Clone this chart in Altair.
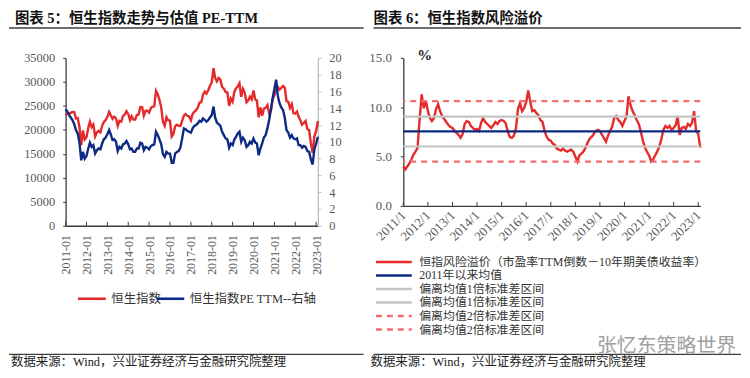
import altair as alt
import pandas as pd

# ---------------- data (monthly) ----------------
START = "2011-01-01"

hsi_close = [
    23035, 23447, 23338, 23528, 23720, 23684, 22398, 22440, 20535, 16800, 19865, 17989,
    18434, 20390, 21680, 20556, 21094, 18630, 19441, 19796, 19483, 20840, 21642, 22030,
    22657, 23730, 23020, 22300, 22737, 22392, 20803, 21884, 21731, 22860, 23206, 23881,
    23306, 22035, 22837, 22151, 22134, 23082, 23191, 24757, 24742, 22933, 23998, 23987,
    23605, 24507, 24823, 24901, 28133, 27424, 26250, 24636, 21671, 20846, 22640, 21996,
    21914, 18600, 19112, 20777, 21067, 20815, 20794, 21891, 22977, 23297, 22935, 22790,
    22001, 23361, 23741, 24112, 24615, 25661, 25765, 27324, 27970, 27554, 28246, 29177,
    29919, 32887, 30845, 30093, 30808, 30469, 28955, 28583, 27889, 27789, 24980, 26507,
    25846, 27942, 28633, 29051, 29699, 26901, 28543, 27778, 25725, 26092, 26907, 26346,
    28190, 26313, 26130, 22600, 24644, 22961, 24427, 24595, 25177, 23459, 24107, 26341,
    27231, 28284, 28980, 28378, 28725, 29152, 28828, 25961, 25879, 24576, 25377, 23475,
    23398, 23802, 22713, 21997, 21089, 21415, 21860, 20157, 19954, 17223, 15200, 18597,
    19781, 21842,
]

pe_ttm = [
    13.9, 13.6, 13.2, 12.9, 12.6, 12.1, 11.4, 11.0, 9.9, 7.8, 8.8, 8.0,
    8.3, 9.2, 9.9, 9.4, 9.6, 8.6, 9.0, 9.2, 9.1, 9.8, 10.3, 10.5,
    10.9, 11.4, 10.9, 10.2, 10.3, 10.0, 8.9, 9.4, 9.2, 9.7, 9.8, 10.1,
    9.7, 9.1, 9.2, 8.8, 8.8, 9.2, 9.2, 9.9, 9.8, 9.0, 9.4, 9.3,
    9.1, 9.5, 9.6, 9.7, 11.2, 10.8, 10.3, 9.7, 8.5, 8.2, 8.8, 8.6,
    8.6, 7.5, 7.5, 8.6, 8.8, 8.9, 9.3, 10.4, 11.6, 11.5, 11.3, 11.2,
    11.1, 11.6, 11.9, 12.0, 12.2, 12.5, 12.4, 12.8, 12.6, 12.4, 12.6, 12.9,
    13.2, 14.2, 12.9, 12.3, 12.1, 11.9, 11.2, 10.8, 10.4, 10.3, 9.3, 9.8,
    9.6, 10.3, 10.6, 11.0, 11.2, 10.0, 10.5, 10.2, 9.4, 9.6, 10.0, 9.8,
    10.4, 9.9, 9.8, 8.4, 9.2, 9.8, 10.5, 10.8, 11.6, 12.6, 13.8, 15.2,
    16.3, 17.4, 15.5, 14.6, 14.1, 13.8, 12.9, 11.4, 11.1, 10.5, 10.8, 10.4,
    10.3, 10.4, 9.6, 9.6, 9.3, 9.5, 9.4, 8.9, 8.8, 7.9, 7.3, 9.1,
    9.8, 10.6,
]

risk_premium = [
    4.0, 3.7, 4.0, 4.3, 4.7, 5.2, 5.5, 5.9, 8.8, 11.3, 9.9, 10.7,
    9.6, 8.9, 8.6, 8.9, 9.8, 10.3, 9.6, 9.1, 8.8, 8.5, 8.2, 8.0,
    7.9, 7.6, 7.4, 7.2, 6.9, 7.3, 8.3, 8.6, 8.5, 8.1, 7.9, 7.7,
    7.8, 7.6, 8.4, 8.9, 8.5, 8.3, 8.1, 7.9, 8.2, 8.5, 8.3, 8.6,
    8.7, 8.6, 8.4, 7.6, 7.0, 6.9, 7.1, 7.8, 9.8, 10.4, 9.6, 9.9,
    10.5, 11.7, 10.6, 9.6, 9.7, 9.4, 9.2, 8.7, 8.5, 7.6, 7.0, 6.7,
    6.6, 6.3, 6.2, 5.8, 5.7, 5.6, 5.8, 5.6, 5.5, 5.6, 5.7, 5.5,
    5.0, 4.5, 5.1, 5.3, 5.5, 5.9, 6.4, 6.8, 7.0, 7.3, 7.6, 7.7,
    7.6, 7.2, 6.9, 6.5, 7.1, 7.6, 8.0, 8.9, 9.1, 8.7, 8.5, 8.1,
    8.6, 9.1, 11.1, 10.2, 9.6, 9.2, 8.7, 8.3, 7.5, 6.6, 5.9, 5.5,
    5.1, 4.5, 4.7, 5.1, 5.5, 6.0, 6.7, 7.7, 8.1, 7.9, 8.1, 7.7,
    7.9, 8.2, 9.1, 7.2, 7.9, 8.0, 7.8, 8.3, 8.1, 8.4, 9.6, 7.6,
    7.3, 5.9,
]

rp_name = "恒指风险溢价（市盈率TTM倒数－10年期美债收益率）"
level_names = ["2011年以来均值", "偏离均值1倍标准差区间", "偏离均值1倍标准差区间 ",
               "偏离均值2倍标准差区间", "偏离均值2倍标准差区间 "]
level_values = [7.55, 9.05, 6.02, 10.62, 4.48]

left_names = ["恒生指数", "恒生指数PE TTM--右轴"]
hsi_ticks = [0, 5000, 10000, 15000, 20000, 25000, 30000, 35000]
pe_ticks = [0, 2, 4, 6, 8, 10, 12, 14, 16, 18, 20]
rp_ticks = [0, 5, 10, 15]
tick_years = list(range(2011, 2024))

title_left = "图表 5：恒生指数走势与估值 PE-TTM"
title_right = "图表 6：恒生指数风险溢价"
source_text = "数据来源：Wind，兴业证券经济与金融研究院整理"
watermark = "张忆东策略世界"

# ---------------- styling ----------------
CJK = "Noto Sans CJK SC"
MIX = "Liberation Serif, Noto Sans CJK SC"
NUM = "Liberation Serif"
RED = "#E42A2A"
NAVY = "#0C2A84"
GREY = "#C4C4C4"
PINK = "#F26D6D"
AX = "#3C3C3C"
LAB = "#595959"

dates = list(pd.date_range(START, periods=len(hsi_close), freq="MS").strftime("%Y-%m-%d"))
d_end = pd.Timestamp(dates[-1])
x_domain = [alt.DateTime(year=2011, month=1, date=1, utc=True),
            alt.DateTime(year=int(d_end.year), month=int(d_end.month), date=1, utc=True)]
year_vals = [alt.DateTime(year=y, month=1, date=1, utc=True) for y in tick_years]
df_ticks = pd.DataFrame({"date": [f"{y}-01-01" for y in tick_years]})

one = pd.DataFrame({"a": [0]})


def deco_text(txt, x, y, size, weight="normal", color="#111111", font=MIX,
              align="left", baseline="middle"):
    return alt.Chart(one).mark_text(
        text=txt, font=font, fontSize=size, fontWeight=weight, color=color,
        align=align, baseline=baseline
    ).encode(x=alt.value(x), y=alt.value(y))


def deco_rule(x1, x2, y, width=1.5, color=AX, opacity=1):
    return alt.Chart(one).mark_rule(color=color, strokeWidth=width, opacity=opacity).encode(
        x=alt.value(x1), x2=alt.value(x2), y=alt.value(y))


# ---------------- left panel ----------------
HL = 169
df_hsi = pd.DataFrame({"date": dates, "v": hsi_close, "s1": left_names[0]})
df_pe = pd.DataFrame({"date": dates, "v": pe_ttm, "s1": left_names[1]})

xL = alt.X("date:T", scale=alt.Scale(type="utc", domain=x_domain),
           axis=alt.Axis(values=year_vals, labelExpr="utcFormat(datum.value, '%Y-%m')",
                         labelAngle=270, labelOverlap=False, title=None, grid=False,
                         labelFont=NUM, labelFontSize=12, labelColor=LAB, domainColor=AX,
                         domainWidth=1.3, ticks=False, labelPadding=9))

colorL = alt.Color("s1:N", scale=alt.Scale(domain=left_names, range=[RED, NAVY]),
                   legend=alt.Legend(orient="none", legendX=19, legendY=235,
                                     direction="horizontal", title=None,
                                     symbolType="M-2.33,0H2.33", symbolSize=144,
                                     symbolStrokeWidth=2.6, labelFont=MIX,
                                     labelFontSize=12.5, labelColor="#333333", labelLimit=0,
                                     labelOffset=12, columnPadding=-11, padding=0))

hsi_line = alt.Chart(df_hsi).mark_line(strokeWidth=2.4).encode(
    x=xL,
    y=alt.Y("v:Q", scale=alt.Scale(domain=[0, 35000]),
            axis=alt.Axis(values=hsi_ticks, format="d", orient="left", title=None, grid=False,
                          labelFont=NUM, labelFontSize=12.5, labelColor=LAB,
                          domainColor=AX, domainWidth=1.3, tickColor=AX, tickSize=3,
                          labelPadding=8)),
    color=colorL)

pe_line = alt.Chart(df_pe).mark_line(strokeWidth=2.4).encode(
    x=xL,
    y=alt.Y("v:Q", scale=alt.Scale(domain=[0, 20]),
            axis=alt.Axis(values=pe_ticks, format="d", orient="right", title=None, grid=False,
                          labelFont=NUM, labelFontSize=12.5, labelColor=LAB,
                          domainColor="#BDBDBD", domainWidth=1.3, tickColor="#BDBDBD",
                          tickSize=3, labelPadding=8)),
    color=colorL)

ticksL = alt.Chart(df_ticks).mark_rule(color=AX, strokeWidth=1).encode(
    x=xL, y=alt.value(HL - 4), y2=alt.value(HL))

left = alt.layer(
    hsi_line, pe_line, ticksL,
    deco_rule(-57, 300, -49, 0.5, opacity=0),
    deco_text(title_left, -51, -35.5, 14.5, "bold", baseline="alphabetic"),
    deco_rule(-57, 300, -30),
    deco_rule(-57, 300, 298.5, 1.2),
    deco_text(source_text, -55, 306, 12.5, color="#222222"),
).resolve_scale(y="independent").properties(width=254, height=HL)

# ---------------- right panel ----------------
HR = 149
all_right = [rp_name] + level_names
df_rp = pd.DataFrame({"date": dates, "v": risk_premium, "s2": rp_name})
df_lv = pd.DataFrame({"v": level_values, "s2": level_names})

legR = alt.Legend(orient="none", legendX=-16, legendY=199, direction="vertical", title=None,
                  symbolType="M-3.6,0H3.6", symbolSize=100, symbolStrokeWidth=2.4,
                  labelFont=MIX, labelFontSize=12, labelColor="#333333", labelLimit=0,
                  labelOffset=19, rowPadding=0.6, padding=0)
colorR = alt.Color("s2:N", scale=alt.Scale(domain=all_right,
                                           range=[RED, NAVY, GREY, GREY, PINK, PINK]),
                   legend=legR)
dashR = alt.StrokeDash("s2:N", scale=alt.Scale(domain=all_right,
                                               range=[[1, 0], [1, 0], [1, 0], [1, 0], [6, 5], [6, 5]]),
                       legend=legR)

xR = alt.X("date:T", scale=alt.Scale(type="utc", domain=x_domain),
           axis=alt.Axis(values=year_vals, labelExpr="utcFormat(datum.value, '%Y') + '/1'",
                         labelAngle=315, labelAlign="right", labelBaseline="middle",
                         labelOverlap=False, title=None, grid=False, labelFont=NUM,
                         labelFontSize=13, labelColor=LAB, domainColor=AX, domainWidth=1.3,
                         ticks=False, labelPadding=7))
yR = alt.Y("v:Q", scale=alt.Scale(domain=[0, 15]),
           axis=alt.Axis(values=rp_ticks, format=".1f", title=None, grid=False,
                         labelFont=NUM, labelFontSize=13, labelColor=LAB, domainColor=AX,
                         domainWidth=1.3, tickColor=AX, tickSize=3, labelPadding=9))

rp_line = alt.Chart(df_rp).mark_line(strokeWidth=2.4).encode(
    x=xR, y=yR, color=colorR, strokeDash=dashR)
lv_rules = alt.Chart(df_lv).mark_rule(strokeWidth=2.2).encode(
    y=yR, color=colorR, strokeDash=dashR)
ticksR = alt.Chart(df_ticks).mark_rule(color=AX, strokeWidth=1).encode(
    x=xR, y=alt.value(HR - 4), y2=alt.value(HR))

right = alt.layer(
    rp_line, lv_rules, ticksR,
    deco_text("%", 14, -3, 15, "bold", color="#222222"),
    deco_text(title_right, -30, -35.5, 14.5, "bold", baseline="alphabetic"),
    deco_rule(-30, 340, -30),
    deco_rule(-30, 340, 298.5, 1.2),
    deco_text(watermark, 195, 290, 20, color="#A0A0A0", font=CJK),
    deco_text(source_text, -33, 306, 12.5, color="#222222"),
).properties(width=299, height=HR)

chart = alt.hconcat(left, right, spacing=86, bounds="flush").resolve_scale(
    color="independent", strokeDash="independent"
).properties(padding=0).configure_view(stroke=None)

chart.save("out.html", embed_options={"renderer": "svg", "actions": False})
